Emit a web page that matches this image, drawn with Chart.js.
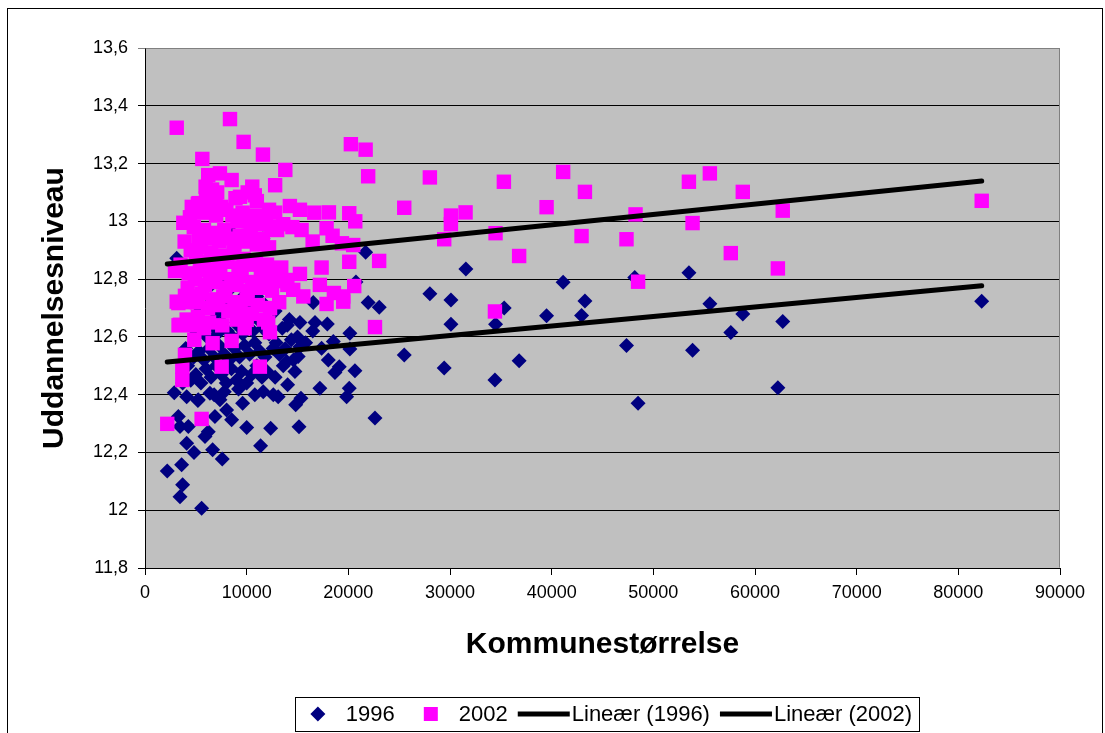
<!DOCTYPE html>
<html>
<head>
<meta charset="utf-8">
<script src="https://cdn.jsdelivr.net/npm/chart.js@4.4.0/dist/chart.umd.min.js"></script>
<style>
    html, body { margin: 0; padding: 0; background: #fff; }
    #wrap { width: 1105px; height: 733px; }
</style>
</head>
<body>
<div id="wrap"><canvas id="chart" width="1105" height="733"></canvas></div>
<script>
// municipality size vs. education level, [size, level]
const points1996 = [
    [5570,12.007],[3440,12.047],[3700,12.088],[2190,12.136],[3600,12.157],[4820,12.2],[4100,12.232],[7600,12.177],
    [6650,12.209],[5900,12.255],[3440,12.29],[4260,12.29],[3280,12.324],[6220,12.272],[6880,12.324],[8520,12.313],
    [11370,12.223],[10000,12.286],[12360,12.284],[15150,12.289],[22620,12.319],[2880,12.407],[4100,12.393],[5240,12.382],
    [6390,12.405],[7370,12.382],[8030,12.347],[9600,12.37],[11630,12.41],[12620,12.4],[13100,12.393],[14030,12.434],
    [14820,12.365],[15340,12.388],[17200,12.422],[19830,12.393],[20090,12.422],[20650,12.483],[18680,12.477],[19110,12.497],
    [18030,12.52],[17370,12.561],[20150,12.558],[20150,12.613],[18520,12.584],[15070,12.532],[15240,12.566],[13930,12.515],
    [14750,12.48],[16720,12.65],[17930,12.645],[15240,12.65],[16550,12.719],[21950,12.719],[23040,12.703],
    [3120,12.872],[21700,12.893],[20750,12.79],
    [31560,12.835],[41130,12.789],[48170,12.806],[28020,12.749],[30090,12.728],[43270,12.724],[35330,12.7],[39500,12.673],
    [42940,12.674],[30090,12.644],[34480,12.644],[25500,12.537],[29430,12.492],[36800,12.517],[34420,12.451],[47360,12.57],
    [48500,12.37],[53500,12.822],[55560,12.715],[58800,12.679],[57620,12.615],[62730,12.653],[53860,12.554],[62250,12.424],
    [82300,12.723],
    [4500,12.45],[5000,12.47],[5500,12.44],[6000,12.49],[6500,12.46],[7000,12.5],[7500,12.47],[8000,12.44],
    [8500,12.49],[9000,12.45],[9500,12.48],[10000,12.44],[10500,12.47],[11000,12.5],[11500,12.46],[12000,12.48],
    [4800,12.53],[5300,12.55],[5800,12.52],[6300,12.56],[6800,12.53],[7300,12.57],[7800,12.54],[8300,12.52],
    [8800,12.56],[9300,12.53],[9800,12.57],[10300,12.54],[10800,12.58],[11300,12.55],[11800,12.53],[12600,12.56],
    [13200,12.54],[5000,12.61],[5600,12.63],[6100,12.6],[6600,12.64],[7100,12.61],[7600,12.65],[8100,12.62],
    [8600,12.6],[9100,12.64],[9600,12.61],[10100,12.65],[10600,12.62],[11100,12.66],[11600,12.63],[12200,12.61],
    [13500,12.63],[14200,12.66],[5400,12.69],[6200,12.71],[7000,12.68],[7800,12.72],[8600,12.69],[9400,12.73],
    [10200,12.7],[11000,12.74],[11800,12.71],[12800,12.69],[14000,12.64],[6500,12.78],[7500,12.8],[8500,12.77],
    [9500,12.81],[10500,12.78],[11500,12.82],[12500,12.79],[8600,12.96],[11600,12.94],[10900,12.86],[4200,12.5],
    [4000,12.56],[3700,12.44],[5200,12.38],[6800,12.4],[7800,12.41],[9200,12.42],[10800,12.4],[12800,12.46],
    [13600,12.5],[14600,12.52],[15800,12.58],[16500,12.62],[15000,12.6],[14400,12.59],[13800,12.56],[12900,12.58]
];

const points2002 = [
    [3120,13.324],[8360,13.354],[9700,13.275],[11600,13.231],[5640,13.216],[13800,13.178],[12800,13.125],[20250,13.267],
    [21700,13.248],[21950,13.156],[6220,13.16],[7370,13.166],[8520,13.143],[5960,13.12],[10550,13.12],[5270,13.063],
    [6950,13.074],[9340,13.085],[10800,13.09],[14250,13.053],[15240,13.04],[16650,13.03],[18090,13.031],[20090,13.028],
    [20680,13.0],[3770,12.995],[4420,13.014],[17860,12.976],[18450,12.95],[16490,12.93],[19370,12.924],[20480,12.918],
    [20090,12.86],[23030,12.863],[17370,12.84],[2950,12.828],[15240,12.818],[17200,12.78],[20580,12.776],[19500,12.74],
    [18580,12.752],[3120,12.722],[3930,12.742],[15570,12.74],[13050,12.793],[13930,12.797],[14580,12.763],
    [10000,12.659],[12120,12.65],[12290,12.616],[8520,12.586],[6650,12.578],[4850,12.59],[3440,12.642],[3280,12.717],
    [22620,12.634],[3930,12.538],[3670,12.497],[3670,12.451],[7540,12.497],[11300,12.497],[5570,12.316],[2190,12.299],
    [17860,12.714],[19500,12.722],
    [28020,13.152],[35300,13.137],[41130,13.171],[43270,13.102],[25500,13.047],[30090,13.02],[30090,12.99],[31530,13.031],
    [39500,13.049],[48250,13.024],[29430,12.938],[34480,12.959],[42940,12.949],[47360,12.938],[36800,12.88],[48500,12.791],
    [34420,12.688],[53500,13.137],[55560,13.166],[58800,13.102],[62730,13.037],[53860,12.994],[57620,12.89],[62250,12.837],
    [82300,13.071],
    [4600,13.05],[5200,13.06],[5600,13.03],[6100,13.04],[6600,13.06],[7000,13.02],[7500,13.05],[8000,13.04],
    [8600,13.02],[9100,13.0],[9600,13.03],[10200,13.0],[10800,13.02],[11300,12.99],[11900,13.0],[12400,12.98],
    [13000,12.97],[13600,12.99],[4800,12.98],[5300,12.95],[5800,12.97],[6300,12.94],[6800,12.96],[7300,12.93],
    [7800,12.97],[8300,12.94],[8800,12.92],[9300,12.95],[9900,12.93],[10400,12.96],[11000,12.92],[11600,12.94],
    [12200,12.91],[14500,12.98],[15400,12.97],[4500,12.9],[5000,12.88],[5500,12.91],[6000,12.86],[6500,12.89],
    [7000,12.85],[7600,12.88],[8100,12.86],[8700,12.89],[9200,12.84],[9700,12.87],[10300,12.85],[10900,12.86],
    [11400,12.83],[12000,12.85],[12700,12.82],[13400,12.84],[4300,12.82],[4900,12.8],[5400,12.83],[5900,12.78],
    [6400,12.81],[6900,12.79],[7400,12.82],[7900,12.77],[8500,12.8],[9000,12.78],[9500,12.81],[10100,12.76],
    [10600,12.79],[11200,12.77],[11800,12.8],[12500,12.76],[14000,12.78],[4600,12.74],[5100,12.72],[5600,12.75],
    [6200,12.7],[6700,12.73],[7200,12.71],[7700,12.74],[8200,12.69],[8800,12.72],[9400,12.7],[10000,12.73],
    [10500,12.68],[11100,12.71],[11700,12.66],[12300,12.7],[13200,12.72],[4100,12.66],[4700,12.64],[5200,12.67],
    [5800,12.63],[6300,12.65],[7600,12.64],[9000,12.66],[9800,12.63],
    [3900,12.72],[4200,12.77],[3500,12.85],[6600,13.11],[7100,13.1],
    [8900,13.08],[10100,13.1],[11000,13.07],[6000,13.08],[12800,13.03],[12200,13.04],[3900,12.93],[3300,12.64]
];

// linear trend lines, read at the ends of the data range
const trendX = [2190, 82300];
const trend1996 = [12.513, 12.777];
const trend2002 = [12.852, 13.14];

const xTickLabels = ['0','10000','20000','30000','40000','50000','60000','70000','80000','90000'];
const yTickLabels = ['11,8','12','12,2','12,4','12,6','12,8','13','13,2','13,4','13,6'];

const toXY = arr => arr.map(p => ({ x: p[0], y: p[1] }));
const trendXY = ys => trendX.map((x, i) => ({ x: x, y: ys[i] }));

Chart.defaults.font.family = '"Liberation Sans", Arial, sans-serif';
Chart.defaults.color = '#000';

const plotPlugin = {
    id: 'plotPlugin',
    beforeDraw(chart) {
        const { ctx, chartArea: a } = chart;
        ctx.save();
        ctx.fillStyle = '#fff';
        ctx.fillRect(0, 0, chart.width, chart.height);
        ctx.strokeStyle = '#000';
        ctx.lineWidth = 1;
        ctx.strokeRect(7.5, 8.5, 1095, 740);
        ctx.fillStyle = '#c0c0c0';
        ctx.fillRect(a.left, a.top, a.right - a.left, a.bottom - a.top);
        ctx.restore();
    },
    beforeDatasetsDraw(chart) {
        const { ctx, chartArea: a } = chart;
        ctx.save();
        ctx.strokeStyle = '#808080';
        ctx.lineWidth = 1;
        ctx.beginPath();
        ctx.moveTo(Math.round(a.left) + 0.5, Math.round(a.top) + 0.5);
        ctx.lineTo(Math.round(a.right) - 0.5, Math.round(a.top) + 0.5);
        ctx.lineTo(Math.round(a.right) - 0.5, Math.round(a.bottom) - 0.5);
        ctx.stroke();
        ctx.restore();
    },
    afterDraw(chart) {
        // legend in a framed box, like the spreadsheet one
        const ctx = chart.ctx;
        const items = chart.data.datasets;
        const boxW = 38, gap = 17, textOff = boxW + 9;
        const cy = 714;
        ctx.save();
        ctx.font = '22px "Liberation Sans", Arial, sans-serif';
        const widths = items.map(ds => textOff + ctx.measureText(ds.label).width);
        const total = widths.reduce((s, w) => s + w, 0) + gap * (items.length - 1);
        let x = 605.5 - total / 2;
        ctx.strokeStyle = '#000';
        ctx.lineWidth = 1;
        ctx.strokeRect(Math.round(x - 4) + 0.5, 697.5, Math.round(total + 11), 34);
        ctx.textBaseline = 'middle';
        ctx.textAlign = 'left';
        items.forEach((ds, i) => {
            const cx = x + boxW / 2;
            if (ds.showLine) {
                ctx.strokeStyle = ds.borderColor;
                ctx.lineWidth = 5;
                ctx.beginPath();
                ctx.moveTo(cx - 26, cy);
                ctx.lineTo(cx + 26, cy);
                ctx.stroke();
            } else if (ds.pointStyle === 'rectRot') {
                ctx.fillStyle = ds.backgroundColor;
                ctx.beginPath();
                ctx.moveTo(cx - 7.5, cy);
                ctx.lineTo(cx, cy - 7.5);
                ctx.lineTo(cx + 7.5, cy);
                ctx.lineTo(cx, cy + 7.5);
                ctx.closePath();
                ctx.fill();
            } else {
                ctx.fillStyle = ds.backgroundColor;
                ctx.fillRect(cx - 7, cy - 7, 14, 14);
            }
            ctx.fillStyle = '#000';
            ctx.fillText(ds.label, x + textOff, cy + 1);
            x += widths[i] + gap;
        });
        ctx.restore();
    }
};

new Chart(document.getElementById('chart'), {
    type: 'scatter',
    data: {
        datasets: [
            {
                label: '1996',
                data: toXY(points1996),
                pointStyle: 'rectRot',
                pointRadius: 7.5,
                backgroundColor: '#000080',
                borderWidth: 0,
                order: 2
            },
            {
                label: '2002',
                data: toXY(points2002),
                pointStyle: 'rect',
                pointRadius: 10.2,
                backgroundColor: '#ff00ff',
                borderWidth: 0,
                order: 1
            },
            {
                label: 'Lineær (1996)',
                data: trendXY(trend1996),
                showLine: true,
                borderColor: '#000',
                borderWidth: 5,
                borderCapStyle: 'round',
                pointRadius: 0,
                order: 0
            },
            {
                label: 'Lineær (2002)',
                data: trendXY(trend2002),
                showLine: true,
                borderColor: '#000',
                borderWidth: 5,
                borderCapStyle: 'round',
                pointRadius: 0,
                order: 0
            }
        ]
    },
    options: {
        responsive: false,
        animation: false,
        events: [],
        layout: { padding: { left: 0, right: 45, top: 48, bottom: 70 } },
        plugins: {
            legend: { display: false },
            tooltip: { enabled: false }
        },
        scales: {
            x: {
                type: 'linear',
                min: 0,
                max: 90000,
                afterFit: s => { s.height = 95; },
                ticks: {
                    stepSize: 10000,
                    padding: 7,
                    font: { size: 18 },
                    maxRotation: 0,
                    callback: (v, i) => xTickLabels[i]
                },
                grid: { drawOnChartArea: false, tickLength: 7, color: '#000' },
                border: { color: '#000' },
                title: {
                    display: true,
                    text: 'Kommunestørrelse',
                    font: { size: 30, weight: 'bold' },
                    padding: { top: 0, bottom: 0 }
                }
            },
            y: {
                min: 11.8,
                max: 13.6,
                afterFit: s => { s.width = 145; },
                ticks: {
                    stepSize: 0.2,
                    padding: 10,
                    font: { size: 18 },
                    callback: (v, i) => yTickLabels[i]
                },
                grid: {
                    tickLength: 7,
                    color: c => (c.tick && c.tick.value > 13.59) ? '#808080' : '#000'
                },
                border: { color: '#000' },
                title: {
                    display: true,
                    text: 'Uddannelsesniveau',
                    font: { size: 30, weight: 'bold' },
                    padding: { top: 37, bottom: 0 }
                }
            }
        }
    },
    plugins: [plotPlugin]
});
</script>
</body>
</html>
